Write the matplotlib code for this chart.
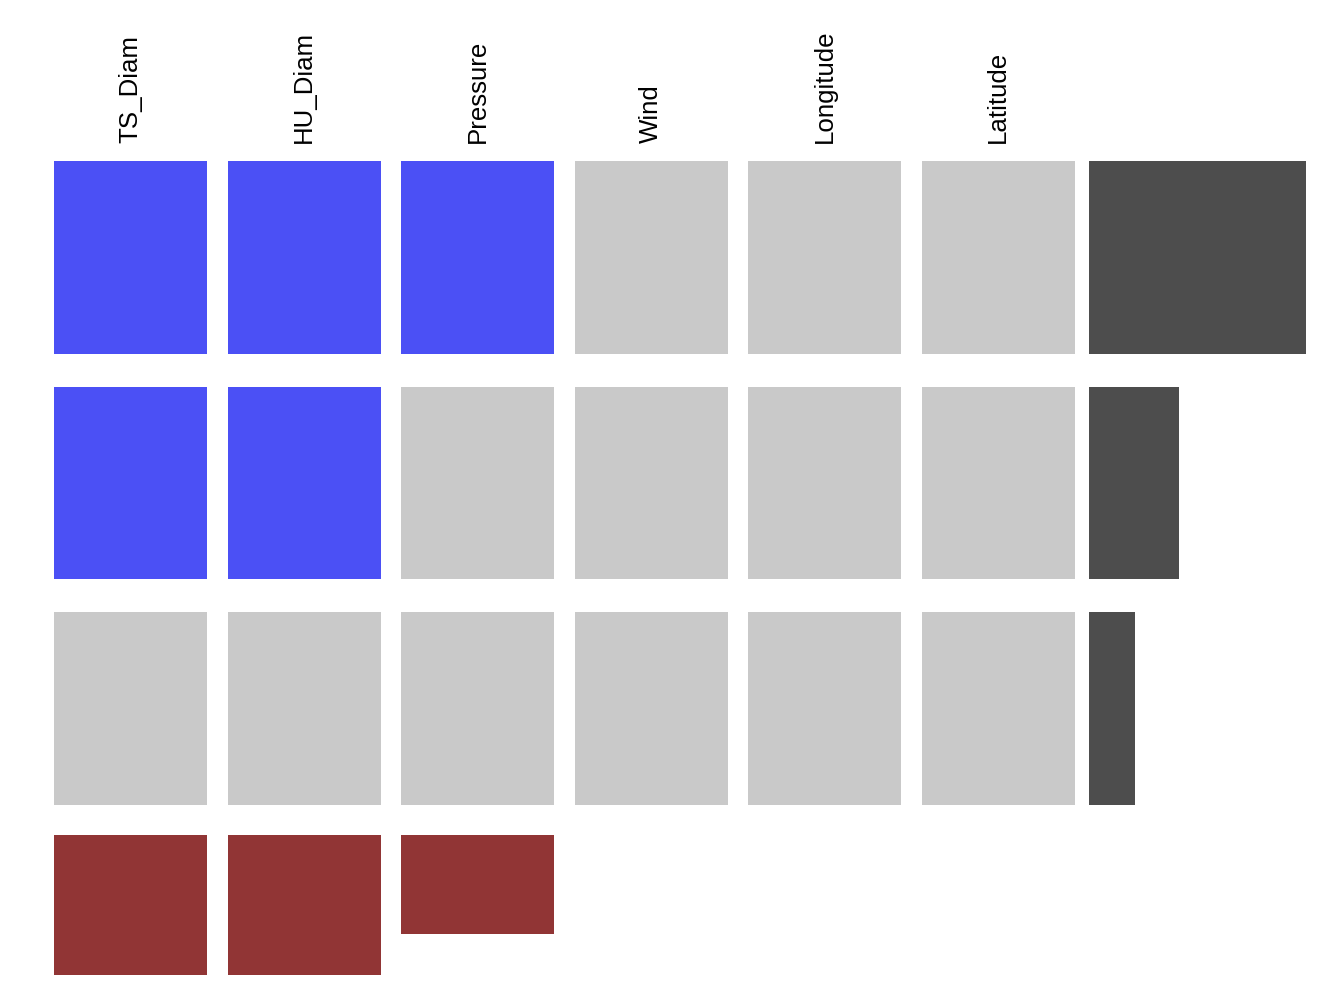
import matplotlib.pyplot as plt
import numpy as np

# missingness patterns (1 = missing), one row per pattern
variables = ['TS_Diam', 'HU_Diam', 'Pressure', 'Wind', 'Longitude', 'Latitude']
patterns = [
    [1, 1, 1, 0, 0, 0],
    [1, 1, 0, 0, 0, 0],
    [0, 0, 0, 0, 0, 0],
]
pattern_counts = [2170, 900, 460]

MISS_COLOR = '#4b50f5'
OBS_COLOR = '#c9c9c9'
COUNT_COLOR = '#4d4d4d'
TOTAL_COLOR = '#913535'


def fx(px):
    return px / 1344.0


def fy(px):
    return 1 - px / 1008.0


def plot_patterns():
    plt.rcParams['font.family'] = ['Liberation Sans', 'DejaVu Sans']
    fig = plt.figure(figsize=(13.44, 10.08), dpi=100)

    pat = np.array(patterns)
    counts = np.array(pattern_counts)
    missing_totals = (pat * counts[:, None]).sum(axis=0)
    n_rows, n_cols = pat.shape

    cw = 0.884  # cell width as fraction of column pitch
    ch = 0.854  # cell height as fraction of row pitch
    ylim = (n_rows - 1 + ch / 2, -ch / 2)
    xlim = (-cw / 2, n_cols - 1 + cw / 2)

    # main grid
    ax = fig.add_axes([fx(54), fy(805), fx(1075 - 54), (805 - 161) / 1008.0])
    for r in range(n_rows):
        colors = [MISS_COLOR if m else OBS_COLOR for m in pat[r]]
        ax.bar(np.arange(n_cols), ch, bottom=r - ch / 2, width=cw, color=colors)
    ax.set_xlim(*xlim)
    ax.set_ylim(*ylim)
    ax.xaxis.tick_top()
    ax.set_xticks(np.arange(n_cols))
    ax.set_xticklabels(variables, rotation=90, fontsize=18.6, va='bottom', ha='center')
    ax.tick_params(axis='x', length=0, pad=13)
    ax.set_yticks([])
    for s in ax.spines.values():
        s.set_visible(False)

    # pattern frequencies on the right
    axr = fig.add_axes([fx(1089), fy(805), fx(1306 - 1089), (805 - 161) / 1008.0])
    axr.barh(np.arange(n_rows), counts, height=ch, color=COUNT_COLOR)
    axr.set_xlim(0, counts.max())
    axr.set_ylim(*ylim)
    axr.axis('off')

    # missing totals per variable at the bottom
    axb = fig.add_axes([fx(54), fy(975), fx(1075 - 54), (975 - 835) / 1008.0])
    axb.bar(np.arange(n_cols), missing_totals, width=cw, color=TOTAL_COLOR)
    axb.set_xlim(*xlim)
    axb.set_ylim(missing_totals.max(), 0)
    axb.axis('off')

    fig.savefig('out.png', dpi=100)


def main():
    plot_patterns()


if __name__ == "__main__":
    main()
